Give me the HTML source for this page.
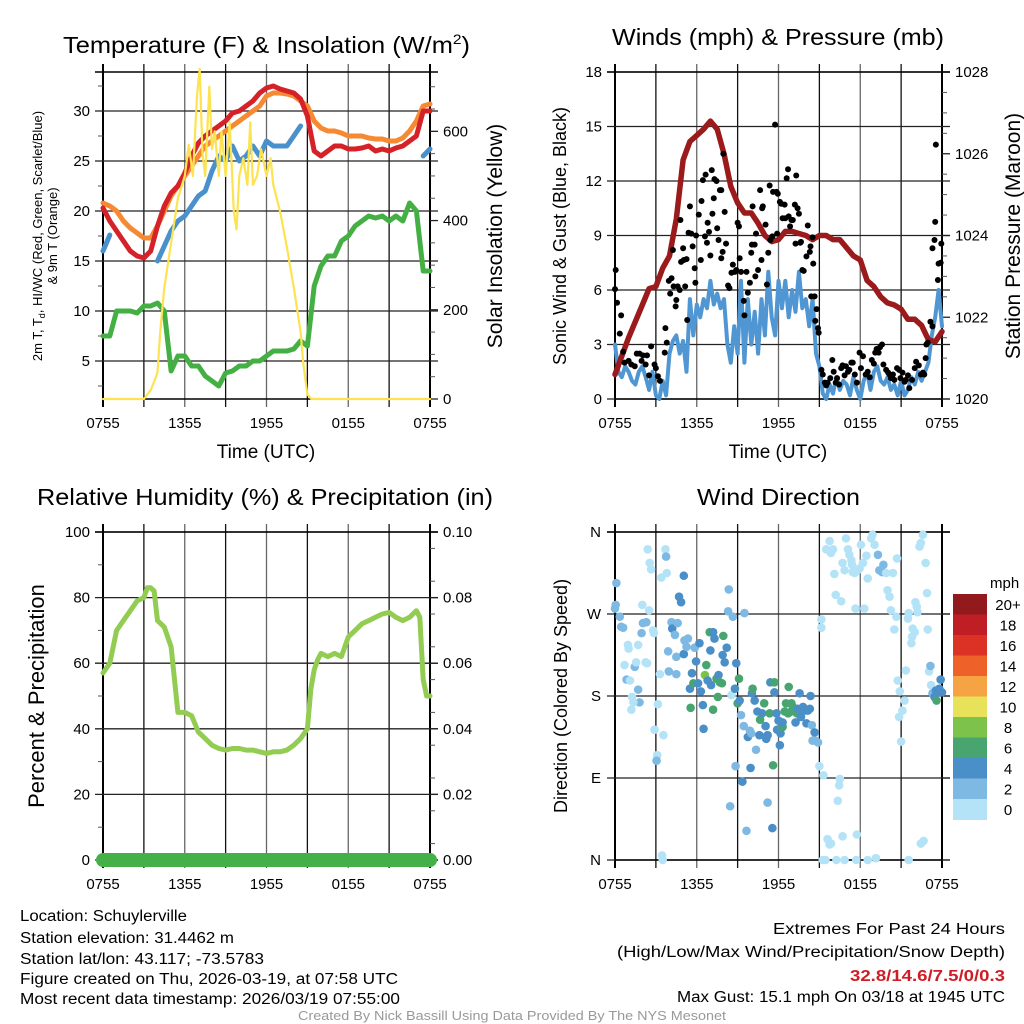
<!DOCTYPE html>
<html><head><meta charset="utf-8"><style>
html,body{margin:0;padding:0;background:#fff;}
svg{display:block;font-family:"Liberation Sans",Arial,sans-serif;}
</style></head><body>
<svg id="chart" width="1024" height="1024" viewBox="0 0 1024 1024" xmlns="http://www.w3.org/2000/svg">
<rect x="0" y="0" width="1024" height="1024" fill="#fff"/>
<g id="layer"></g>
<text x="63" y="53" font-size="23" textLength="407" lengthAdjust="spacingAndGlyphs">Temperature (F) &amp; Insolation (W/m<tspan font-size="14" dy="-9">2</tspan><tspan dy="9">)</tspan></text>
<text x="612" y="45" font-size="23" textLength="332" lengthAdjust="spacingAndGlyphs">Winds (mph) &amp; Pressure (mb)</text>
<text x="37" y="505" font-size="23" textLength="456" lengthAdjust="spacingAndGlyphs">Relative Humidity (%) &amp; Precipitation (in)</text>
<text x="697" y="505" font-size="23" textLength="163" lengthAdjust="spacingAndGlyphs">Wind Direction</text>

<text transform="translate(42,236) rotate(-90)" font-size="13" text-anchor="middle">2m T, T<tspan font-size="9" dy="3">d</tspan><tspan dy="-3">, HI/WC (Red, Green, Scarlet/Blue)</tspan></text>
<text transform="translate(57,236) rotate(-90)" font-size="13" text-anchor="middle">&amp; 9m T (Orange)</text>
<text transform="translate(502,236) rotate(-90)" font-size="21" text-anchor="middle">Solar Insolation (Yellow)</text>
<text transform="translate(566,236) rotate(-90)" font-size="18" text-anchor="middle">Sonic Wind &amp; Gust (Blue, Black)</text>
<text transform="translate(1020,236) rotate(-90)" font-size="21" text-anchor="middle">Station Pressure (Maroon)</text>
<text transform="translate(44,696) rotate(-90)" font-size="22" text-anchor="middle">Percent &amp; Precipitation</text>
<text transform="translate(567,696) rotate(-90)" font-size="18" text-anchor="middle">Direction (Colored By Speed)</text>
<text x="266" y="458" font-size="19" text-anchor="middle">Time (UTC)</text>
<text x="778" y="458" font-size="19" text-anchor="middle">Time (UTC)</text>

<g font-size="15.5" font-family="'Liberation Sans Narrow','Liberation Sans',sans-serif">
<text x="20" y="921" textLength="167" lengthAdjust="spacingAndGlyphs">Location: Schuylerville</text>
<text x="20" y="943" textLength="214" lengthAdjust="spacingAndGlyphs">Station elevation: 31.4462 m</text>
<text x="20" y="964" textLength="244" lengthAdjust="spacingAndGlyphs">Station lat/lon: 43.117; -73.5783</text>
<text x="20" y="984" textLength="378" lengthAdjust="spacingAndGlyphs">Figure created on Thu, 2026-03-19, at 07:58 UTC</text>
<text x="20" y="1004" textLength="380" lengthAdjust="spacingAndGlyphs">Most recent data timestamp: 2026/03/19 07:55:00</text>
<text x="1005" y="934" text-anchor="end" textLength="232" lengthAdjust="spacingAndGlyphs">Extremes For Past 24 Hours</text>
<text x="1005" y="957" text-anchor="end" textLength="388" lengthAdjust="spacingAndGlyphs">(High/Low/Max Wind/Precipitation/Snow Depth)</text>
<text x="1005" y="981" text-anchor="end" fill="#d01c24" font-weight="bold" textLength="155" lengthAdjust="spacingAndGlyphs">32.8/14.6/7.5/0/0.3</text>
<text x="1005" y="1002" text-anchor="end" textLength="328" lengthAdjust="spacingAndGlyphs">Max Gust: 15.1 mph On 03/18 at 1945 UTC</text>
<text x="512" y="1020" text-anchor="middle" fill="#999" font-size="13" textLength="428" lengthAdjust="spacingAndGlyphs">Created By Nick Bassill Using Data Provided By The NYS Mesonet</text>
</g>
</svg>
<script>
// ---------- data ----------
const xTickLabels = ["0755","1355","1955","0155","0755"];
const tempTicks = [5,10,15,20,25,30];
const solarTicks = [0,200,400,600];
const windTicks = [0,3,6,9,12,15,18];
const pressTicks = [1020,1022,1024,1026,1028];
const rhTicks = [0,20,40,60,80,100];
const precipTicks = ["0.00","0.02","0.04","0.06","0.08","0.10"];
const dirTickLabels = ["N","E","S","W","N"];
const speedBinLabels = ["20+","18","16","14","12","10","8","6","4","2","0"];

const halfHours = [0,0.5,1,1.5,2,2.5,3,3.5,4,4.5,5,5.5,6,6.5,7,7.5,8,8.5,9,9.5,10,10.5,11,11.5,12,12.5,13,13.5,14,14.5,15,15.5,16,16.5,17,17.5,18,18.5,19,19.5,20,20.5,21,21.5,22,22.5,23,23.5,24];
const temp9m = [20.8,20.5,20,19,18.3,17.8,17.3,17.3,18.5,20,21.5,22.5,23.5,24.5,25.5,26.5,27,27.5,28,28.5,29,29.5,30,30.5,31.5,31.8,31.8,31.7,31.5,31,30.5,29,28.3,28,28,27.8,27.5,27.5,27.5,27.3,27.2,27.2,27,27,27.3,28,29,30.5,30.7];
const temp2m = [20.3,19,18,17,16,15.5,15.3,16,18.5,20.5,21.8,22.5,23.8,25.5,26.8,27.5,28,28.5,29,29.8,30,30.5,31,31.8,32.3,32.5,32.2,32,31.8,31.2,29.5,26,25.5,26,26.5,26.5,26.2,26.2,26.3,26.5,26,26.2,26,26.3,26.5,27,27.5,30,30];
const windChill = [16,17.6,null,null,null,null,null,null,15,16.5,18,19,19.5,20.5,21.5,22,24,25.5,25,26.5,25,25.5,26.5,25.5,27,26.5,26.5,26.5,27.5,28.5,null,null,null,null,null,null,null,null,null,null,null,null,null,null,null,null,null,25.5,26.2];
const dewPoint = [7.5,7.5,10,10,10,9.8,10.5,10.5,10.8,10,4,5.5,5.5,4.5,4.5,3.5,3,2.5,3.8,4,4.5,4.5,5,5,5.5,6,6,6,6.2,7,6.5,12.5,14.5,15.5,15.5,17,17.5,18.5,19,19.5,19.3,19.5,19,19.5,19,20.8,20,14,14];
const solarHours = [0,3,3.5,3.9,4,4.2,4.5,5,5.5,6,6.3,6.6,6.9,7.1,7.3,7.5,7.8,8,8.2,8.5,8.7,9,9.3,9.6,9.8,10,10.3,10.6,10.8,11,11.3,11.6,12,12.3,12.5,13,13.5,14,14.5,14.7,15,15.3,24];
const solarValues = [0,0,20,50,60,150,250,350,450,500,570,500,680,740,550,500,700,560,600,500,600,500,620,420,380,500,540,480,620,480,500,560,500,540,480,420,340,250,150,80,10,0,0];

const pressHours = [0,1,2,2.5,3,3.5,4,4.5,5,5.5,6,6.5,7,7.5,8,8.5,9,9.5,10,10.5,11,11.5,12,12.5,13,13.5,14,14.5,15,15.5,16,16.5,17,17.5,18,18.5,19,19.5,20,20.5,21,21.5,22,22.5,23,23.5,24];
const pressValues = [1020.6,1021.5,1022.3,1022.7,1022.75,1023.2,1023.5,1024.4,1025.85,1026.3,1026.45,1026.6,1026.8,1026.6,1026,1025.2,1024.8,1024.55,1024.55,1024.3,1024,1023.85,1023.9,1024.1,1024.1,1024.05,1024,1023.9,1024,1024,1023.9,1023.9,1023.7,1023.5,1023.4,1022.9,1022.75,1022.5,1022.35,1022.3,1022.2,1021.95,1021.95,1021.8,1021.45,1021.4,1021.65];
const sonicWind = [3,1.5,1.2,1.8,1.5,1.0,0.8,1.5,1.8,1.2,0.5,1.5,0.2,0,1.0,0.2,2.5,3.2,3.5,2.5,3.2,1.5,5.5,3.5,5.2,4.5,5.5,5.0,6.5,5.2,5.8,5.0,5.5,3.0,2.0,4.0,2.5,6.5,2.0,5.5,3.0,4.8,2.5,5.5,3.5,7.0,4.5,3.5,6.5,5.0,6.5,4.5,6.0,4.8,7.0,5.0,5.5,4.0,5.5,2.5,1.8,0.3,0,0.8,0.3,1.2,0.5,1.0,0.8,0.2,1.2,0.5,0,1.0,1.5,0.5,1.5,1.8,1.0,0.8,1.2,0.5,0.8,0.2,1.0,0.2,0.5,1.2,0.8,1.5,1.0,1.5,2.0,3.5,4.5,6.0,4.0];
const gustHours = [0,0.05,0.15,0.35,0.45,0.6,0.7,1.0,1.2,1.45,1.6,1.8,1.95,2.05,2.25,2.35,2.65,2.5,2.9,3.0,3.15,3.3,3.65,3.7,3.8,3.95,4.05,4.15,4.25,4.3,4.45,4.5,4.6,4.75,4.8,4.85,5.0,5.05,5.15,5.25,5.3,5.5,5.4,5.6,5.7,5.85,5.9,5.95,6.15,6.3,6.35,6.45,6.6,6.65,6.75,6.8,6.9,7.0,7.1,7.15,7.25,7.3,7.45,7.5,7.6,7.7,7.8,7.8,7.9,7.95,8.05,8.15,8.3,8.4,8.55,8.65,8.8,8.9,9.0,9.1,9.15,9.25,9.45,9.5,9.65,9.75,9.9,10.0,10.05,10.1,10.25,10.3,10.35,10.5,10.65,10.75,10.8,10.85,11.05,11.15,11.25,11.35,11.4,11.55,11.6,11.75,11.85,11.9,11.95,12.1,12.2,12.3,12.45,12.5,12.6,12.7,12.75,12.85,12.95,13.05,13.2,13.25,13.3,13.4,13.5,13.6,13.65,13.75,13.85,14.05,14.15,14.3,14.35,14.4,14.5,14.55,14.65,14.7,14.8,14.9,14.95,15.15,15.25,15.4,15.5,15.6,15.8,15.95,16.05,16.2,16.3,16.45,16.6,16.7,16.85,16.95,17.1,17.2,17.35,17.45,17.6,17.75,17.95,18.05,18.2,18.4,18.55,18.7,18.85,19.0,19.1,19.2,19.35,19.45,19.6,19.7,19.9,20.05,20.15,20.25,20.4,20.5,20.7,20.85,20.95,21.1,21.25,21.35,21.5,21.6,21.8,22.0,22.1,22.3,22.45,22.6,22.7,22.8,22.85,22.95,23.15,23.3,23.3,23.45,23.5,23.55,23.7,23.75,23.9,23.95];
const gustValues = [6.05,7.1,5.3,3.6,4.6,2.6,2.0,2.1,1.9,1.8,2.5,2.5,2.1,2.4,1.9,2.4,2.9,1.3,1.9,1.7,1.25,1.0,2.55,3.9,3.1,6.5,5.8,6.65,8.2,6.2,5.1,5.45,6.2,6.0,9.85,7.55,8.3,7.65,6.2,7.7,4.35,10.6,9.15,9.1,8.4,7.2,6.4,9.0,10.15,7.65,10.9,12.05,8.95,12.35,8.6,9.7,9.2,7.9,12.6,10.2,11.05,12.1,12.0,9.4,8.75,11.5,11.5,7.75,8.1,13.5,10.3,8.55,6.25,6.1,6.95,7.4,7.0,7.1,9.7,9.5,7.75,7.0,5.4,4.6,7.0,5.85,6.4,8.05,8.5,10.6,8.5,6.75,9.1,7.1,11.5,7.65,10.5,10.6,9.6,6.3,8.05,11.75,8.75,8.95,11.4,15.1,11.4,9.1,11.3,10.85,10.75,9.95,10.7,9.95,12.15,12.65,10.05,9.5,9.85,9.85,10.7,8.55,12.3,10.5,10.2,8.6,8.65,7.1,7.05,7.85,9.55,8.1,8.4,5.65,8.9,7.45,5.65,4.3,4.95,3.9,3.65,1.6,1.35,0.9,0.75,0.9,1.15,2.15,1.5,0.9,1.15,0.8,1.7,1.85,1.3,1.8,1.5,1.6,2.0,2.0,1.35,0.9,2.55,1.7,2.35,1.35,1.5,1.2,2.15,1.95,2.55,2.75,2.55,2.85,3.0,1.9,1.6,1.45,1.35,1.15,1.35,1.05,1.7,1.6,1.15,1.45,0.95,1.05,1.3,0.6,1.05,1.7,2.05,1.85,1.35,1.45,1.35,2.25,3.0,3.1,4.25,4.0,8.3,8.75,9.75,14.0,6.55,7.45,7.5,8.55];

const rhHours = [0,0.5,1,1.5,2,2.5,3,3.25,3.5,3.75,4,4.5,5,5.5,6,6.5,7,7.5,8,8.5,9,9.5,10,10.5,11,11.5,12,12.5,13,13.5,14,14.5,15,15.25,15.5,15.75,16,16.5,17,17.5,18,18.5,19,19.5,20,20.5,21,21.5,22,22.5,23,23.25,23.5,23.75,24];
const rhValues = [57,60,70,73,76,79,80,83,83,82,73,71,65,45,45,44,39,37,35,34,33.5,34,34,33.5,33.5,33,32.5,33,33,33.5,35,37,40,52,58,61,63,62,63,62,68,70,72,73,74,75,75.5,74,73,74,76,74,55,50,50];
const precipValues = [0,0];

const dirHours = [0.1,0,0.05,0.35,0.45,0.6,0.95,1.0,1.7,1.95,2.05,2.3,2.0,2.5,2.55,2.65,2.4,2.8,2.85,0.7,0.85,1.1,1.45,1.55,2.25,2.35,1.7,1.8,1.25,1.35,1.2,2.9,3.1,3.05,3.15,3.3,3.4,3.7,3.75,3.8,3.45,3.5,3.55,3.9,4.15,4.2,4.4,4.5,4.6,4.7,4.85,5.05,5.05,3.95,4.5,5.1,5.25,5.35,5.5,5.65,5.75,5.85,5.95,6.1,6.2,6.3,6.45,6.5,6.6,6.7,6.8,6.95,7.0,7.05,7.2,7.3,7.45,7.55,7.6,7.7,7.85,7.9,7.95,8.05,8.2,5.55,7.2,8.3,8.35,8.45,8.55,8.65,8.8,8.85,8.9,9.0,9.1,9.15,9.35,9.25,9.45,9.5,9.65,9.75,9.9,9.95,10.0,10.05,10.1,10.25,10.35,10.45,10.6,10.65,10.8,10.95,11.05,11.1,11.2,11.2,11.35,11.4,11.55,11.6,11.7,11.7,11.85,11.9,12.0,12.1,12.15,12.3,12.3,12.45,12.55,12.7,12.75,12.8,12.95,13.05,13.2,13.25,13.35,13.4,13.55,13.65,13.8,13.9,14.05,14.15,14.3,14.35,14.45,14.5,14.65,14.7,14.9,15.0,15.15,15.15,15.3,15.5,15.75,15.85,16.0,16.1,16.2,16.6,16.7,16.85,16.95,17.1,17.2,17.35,17.4,17.45,17.6,17.65,17.8,17.95,18.05,18.2,18.3,18.45,18.55,18.8,18.9,19.05,19.3,19.4,19.6,19.7,19.9,20.0,20.15,20.25,20.4,20.5,20.65,20.7,20.85,20.75,20.9,21.0,21.1,21.25,21.35,21.5,21.55,21.75,21.8,21.85,22.0,22.05,22.15,22.2,22.35,22.45,22.6,22.8,22.9,22.95,23.05,23.15,23.2,23.3,23.45,23.55,23.6,23.7,23.8,23.9,24.0,16.5,16.45,16.35,16.7,17.75,15.6,15.75,15.85,15.25,15.45,16.25,16.85,17.7,18.55,19.15,21.55,22.45,22.65];
const dirDegrees = [304,276,280,267,256,255,236,232,236,249,260,261,280,274,326,319,341,252,249,214,198,197,212,217,217,216,187,173,179,173,165,143,115,109,171,204,310,341,333,315,5,0,137,229,261,254,247,223,260,289,283,312,226,207,204,241,234,243,188,205,194,233,218,194,238,185,170,144,203,214,197,250,230,192,250,243,199,179,203,195,194,225,246,217,233,167,165,273,297,59,181,267,188,103,216,172,199,175,86,159,147,271,32,135,142,101,139,183,188,175,121,163,137,154,161,172,147,133,137,63,161,195,35,104,195,184,161,143,153,126,139,146,151,163,172,161,190,162,172,168,163,151,161,166,183,157,168,164,150,164,166,180,148,131,140,131,129,103,264,255,93,341,350,337,341,314,291,284,326,318,353,341,335,329,324,316,315,276,318,320,346,326,276,334,309,353,357,346,335,318,316,324,315,296,289,274,315,253,267,331,157,197,185,130,164,175,208,265,271,238,245,254,250,283,278,272,344,348,357,326,293,253,207,213,192,183,179,186,175,184,188,198,184,89,82,65,26,28,23,17,18,0,0,0,0,0,0,2,0,18,21];
const dirSpeeds = [3,3,3,3,3,3,1,1,1,3,3,3,1,1,1,1,1,1,1,1,3,1,3,1,1,1,3,3,1,1,1,1,1,3,1,1,1,1,3,1,1,1,1,3,3,5,3,3,3,5,5,5,5,3,3,3,3,3,5,5,7,3,5,5,5,5,5,5,9,7,5,7,5,5,5,5,7,7,5,7,7,5,7,5,5,7,7,3,3,3,1,3,5,3,5,7,7,5,5,3,3,3,3,5,3,5,3,5,7,5,3,5,5,7,5,7,5,5,5,3,7,5,5,7,7,5,5,5,5,5,5,7,5,7,7,7,7,7,7,7,7,5,7,5,5,5,5,5,5,5,5,5,3,3,5,3,3,1,1,1,1,1,1,1,1,1,1,1,1,1,1,1,1,1,1,1,1,1,1,1,1,1,1,1,1,1,1,1,3,3,3,3,1,1,1,1,1,1,1,1,1,1,1,1,1,1,1,1,1,1,1,1,1,1,1,1,1,1,1,1,1,1,1,3,1,3,5,5,7,5,5,5,5,1,1,1,1,1,1,1,1,1,1,1,1,1,1,1,1,1,1];

// ---------- drawing ----------
const NS = "http://www.w3.org/2000/svg";
const layer = document.getElementById("layer");
function mk(tag, attrs, parent){ const e=document.createElementNS(NS,tag); for(const k in attrs) e.setAttribute(k,attrs[k]); (parent||layer).appendChild(e); return e; }
const P1={x0:103,x1:430,y0:72,y1:399}, P2={x0:615,x1:942,y0:72,y1:399}, P3={x0:103,x1:430,y0:532,y1:860}, P4={x0:615,x1:942,y0:532,y1:860};
function xs(P,t){ return P.x0 + t/24*(P.x1-P.x0); }
function lin(P,lo,hi){ return v => P.y1 - (v-lo)/(hi-lo)*(P.y1-P.y0); }
const yT = lin(P1,1.2,33.9), yS = lin(P1,0,733), yW = lin(P2,0,18), yP = lin(P2,1020,1028), yRH = lin(P3,0,100), yDir = lin(P4,0,360);
const tickFont = "'Liberation Sans Narrow','Liberation Sans',sans-serif";

function frame(P, name, leftMajors, leftMinors, rightMajors, rightMinors, yL, yR){
  const g = mk("g",{});
  
  
  for(let i=1;i<8;i++){ const x=xs(P,i*3);
    const l = mk("line",{x1:x,x2:x,y1:P.y0-8,y2:P.y1+8,stroke:(i%2==0)?"#666":"#111","stroke-width":1.3},g);
    
     }
  [0,24].forEach(t=>{ const x=xs(P,t); mk("line",{x1:x,x2:x,y1:P.y0-8,y2:P.y1+8,stroke:"#000","stroke-width":2},g); });
  leftMajors.forEach(v=>{ const y=yL(v);
    const l = mk("line",{x1:P.x0-8,x2:P.x1+8,y1:y,y2:y,stroke:"#222","stroke-width":1.3},g);
    
     });
  leftMinors.forEach(v=>{ const y=yL(v); mk("line",{x1:P.x0-5,x2:P.x0,y1:y,y2:y,stroke:"#555","stroke-width":1},g); });
  rightMajors.forEach(v=>{ const y=yR(v); mk("line",{x1:P.x1,x2:P.x1+8,y1:y,y2:y,stroke:"#222","stroke-width":1.3},g); });
  rightMinors.forEach(v=>{ const y=yR(v); mk("line",{x1:P.x1,x2:P.x1+5,y1:y,y2:y,stroke:"#555","stroke-width":1},g); });
  mk("line",{x1:P.x0-8,x2:P.x1+8,y1:P.y0,y2:P.y0,stroke:"#000","stroke-width":1.5},g);
  mk("line",{x1:P.x0,x2:P.x1,y1:P.y1,y2:P.y1,stroke:"#000","stroke-width":1.5},g);
  xTickLabels.forEach((s,i)=>{ const t=mk("text",{x:xs(P,i*6),y:P.y1+29,"font-size":15,"text-anchor":"middle","font-family":tickFont},g);
    
    
    t.textContent=s; });
  return g;
}
function yLabel(g,x,y,s,anchor){ const t=mk("text",{x:x,y:y+5,"font-size":15,"text-anchor":anchor},g);
  
  
  t.textContent=s; }
function pathFrom(hours, vals, P, yf){
  let d="", pen=false;
  for(let i=0;i<hours.length;i++){ const v=vals[i];
    if(v===null||v===undefined){ pen=false; continue; }
    d += (pen?"L":"M") + xs(P,hours[i]).toFixed(1)+","+yf(v).toFixed(1)+" "; pen=true; }
  return d;
}
function series(name, d, color, w, parent){ const p=mk("path",{d:d,fill:"none",stroke:color,"stroke-width":w,"stroke-linejoin":"round","stroke-linecap":"round"},parent);
  
   return p; }

// Panel 1
const tMin=[]; for(let v=2.5; v<=33; v+=2.5) if(v%5!==0) tMin.push(v);
const sMin=[]; for(let v=50; v<=700; v+=50) if(v%200!==0) sMin.push(v);
let g1 = frame(P1,"temperature",tempTicks,tMin,solarTicks,sMin,yT,yS);
tempTicks.forEach(v=>yLabel(g1,P1.x0-13,yT(v),String(v),"end"));
solarTicks.forEach(v=>yLabel(g1,P1.x1+13,yS(v),String(v),"start"));
const c1 = mk("g",{});
series("dewpoint-line", pathFrom(halfHours,dewPoint,P1,yT), "#44b044", 5, c1);
series("temp-9m-line", pathFrom(halfHours,temp9m,P1,yT), "#f68a33", 5, c1);
series("temp-2m-line", pathFrom(halfHours,temp2m,P1,yT), "#d42228", 5, c1);
series("wind-chill-line", pathFrom(halfHours,windChill,P1,yT), "#4a90cc", 5, c1);
series("solar-line", pathFrom(solarHours,solarValues,P1,yS), "#fce34f", 2.2, c1);

// Panel 2
const pMin=[]; for(let v=1020.5; v<1028; v+=0.5) if(v%2!==0) pMin.push(v);
let g2 = frame(P2,"winds",windTicks,[],pressTicks,pMin,yW,yP);
windTicks.forEach(v=>yLabel(g2,P2.x0-13,yW(v),String(v),"end"));
pressTicks.forEach(v=>yLabel(g2,P2.x1+13,yP(v),String(v),"start"));
const windHours = sonicWind.map((v,i)=>i*0.25);
series("sonic-wind-line", pathFrom(windHours,sonicWind,P2,yW), "#4f96d2", 4, null);
series("pressure-line", pathFrom(pressHours,pressValues,P2,yP), "#9b1a1c", 5.5, null);
gustHours.forEach((t,i)=>{ const c=mk("circle",{cx:xs(P2,t),cy:yW(gustValues[i]),r:3,fill:"#000"});
  
   });

// Panel 3
const rMin=[]; for(let v=10; v<100; v+=20) rMin.push(v);
const prMin=[]; for(let v=5; v<100; v+=10) prMin.push(v);
let g3 = frame(P3,"humidity",rhTicks,rMin,rhTicks,prMin,yRH,yRH);
rhTicks.forEach(v=>yLabel(g3,P3.x0-13,yRH(v),String(v),"end"));
precipTicks.forEach((s,i)=>yLabel(g3,P3.x1+13,yRH(rhTicks[i]),s,"start"));
series("rh-line", pathFrom(rhHours,rhValues,P3,yRH), "#92cc52", 5, null);
series("precip-line", pathFrom([0,24],precipValues,P3,v=>yRH(v*1000)), "#45b048", 14, null);

// Panel 4
let g4 = frame(P4,"direction",[0,90,180,270,360],[],[0,90,180,270,360],[],yDir,yDir);
dirTickLabels.forEach((s,i)=>yLabel(g4,P4.x0-14,yDir(i*90),s,"end"));
const binColors = ["#921a1c","#bf1e24","#dc3226","#ee6129","#f6a343","#e8e15a","#7dc24a","#49a56f","#4a8fc7","#7eb9e3","#b4e3f8"];
function speedColor(s){ const idx = Math.min(10, Math.max(0, 10 - Math.floor(s/2))); return binColors[idx]; }
dirHours.forEach((t,i)=>{ const c=mk("circle",{cx:xs(P4,t),cy:yDir(dirDegrees[i]),r:4.3,fill:speedColor(dirSpeeds[i])});
  
   });

// colorbar legend
const lg = mk("g",{});


const mph = mk("text",{x:990,y:588,"font-size":15},lg); mph.textContent="mph";
speedBinLabels.forEach((s,i)=>{
  const r=mk("rect",{x:953,y:594+i*20.5,width:34,height:21,fill:binColors[i]},lg);
  
  
  const t=mk("text",{x:1008,y:594+i*20.5+16,"font-size":15,"text-anchor":"middle"},lg);
  
  
  t.textContent=s;
});
</script>
</body></html>
